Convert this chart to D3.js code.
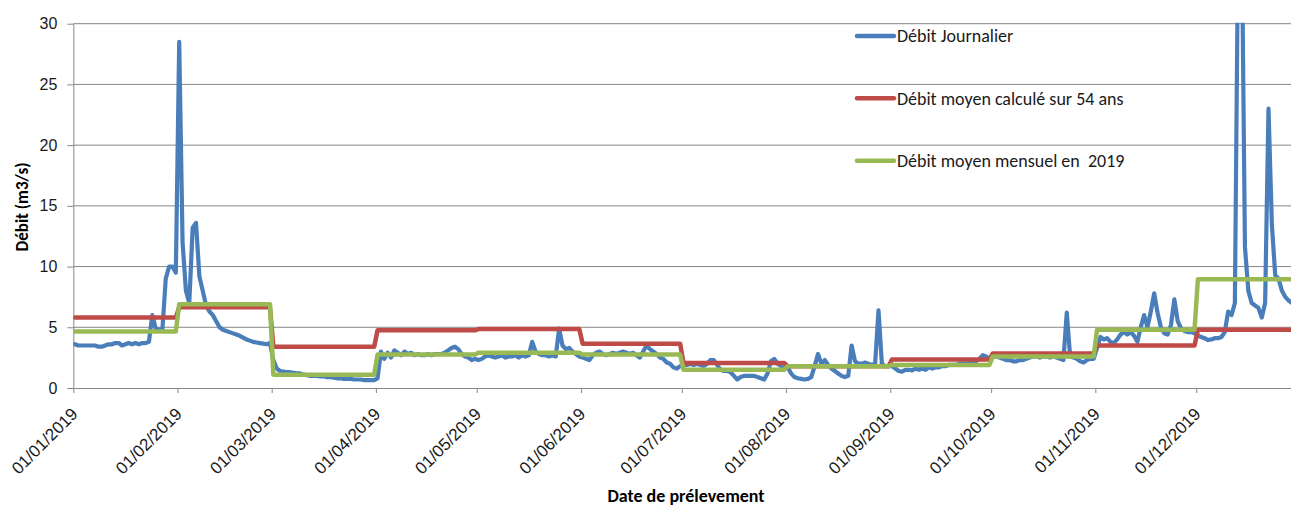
<!DOCTYPE html>
<html><head><meta charset="utf-8">
<script src="https://cdn.jsdelivr.net/npm/d3@7"></script>
<style>
html,body{margin:0;padding:0;background:#fff;}
svg{display:block;font-family:Carlito, Lato, sans-serif;}
svg text{white-space:pre;}
</style></head><body>
<svg id="chart" width="1291" height="507"></svg>
<script>
// ---- data ----
const monthStarts = ["2019-01-01","2019-02-01","2019-03-01","2019-04-01","2019-05-01","2019-06-01",
                     "2019-07-01","2019-08-01","2019-09-01","2019-10-01","2019-11-01","2019-12-01"];
const yTicks = [0, 5, 10, 15, 20, 25, 30];
const seriesNames = ["Débit Journalier", "Débit moyen calculé sur 54 ans", "Débit moyen mensuel en  2019"];
const yTitle = "Débit (m3/s)";
const xTitle = "Date de prélevement";

// daily flow, one array per month (Dec visible up to the 29th)
const dailyJan = [3.6,3.5,3.5,3.5,3.5,3.5,3.5,3.4,3.4,3.5,3.6,3.6,3.7,3.7,3.5,3.6,3.7,3.6,3.7,3.6,3.7,3.7,3.8,6.0,4.9,4.8,4.8,9.0,10.0,10.0,9.5];
const dailyFeb = [28.5,12,8,7.0,13.2,13.6,9.2,8.0,6.8,6.3,6.0,5.5,5.0,4.8,4.7,4.6,4.5,4.4,4.3,4.15,4.0,3.9,3.8,3.75,3.7,3.65,3.6,3.7];
const dailyMar = [2.3,1.6,1.4,1.35,1.3,1.3,1.25,1.2,1.2,1.1,1.05,1.0,1.0,1.0,0.95,0.95,0.9,0.9,0.85,0.8,0.8,0.75,0.75,0.75,0.7,0.7,0.7,0.65,0.65,0.65,0.65];
const dailyApr = [0.8,3.0,2.4,2.9,2.5,3.1,2.9,2.7,3.0,2.8,2.9,2.7,2.8,2.7,2.7,2.8,2.7,2.8,2.8,2.8,2.9,3.1,3.3,3.4,3.2,2.8,2.6,2.5,2.3,2.4];
const dailyMay = [2.3,2.4,2.6,2.7,2.6,2.5,2.6,2.7,2.5,2.6,2.6,2.7,2.5,2.7,2.6,2.7,3.8,3.0,2.8,2.7,2.7,2.6,2.7,2.6,4.9,3.5,3.2,3.3,3.0,2.8,2.6];
const dailyJun = [2.5,2.4,2.3,2.7,2.9,3.0,2.8,2.7,2.8,2.9,2.8,2.9,3.0,2.9,2.8,2.9,2.7,2.5,3.0,3.5,3.2,3.0,2.8,2.5,2.4,2.1,2.0,1.7,1.6,1.8];
const dailyJul = [1.9,1.9,2.0,1.9,2.0,1.9,1.8,2.0,2.3,2.3,1.9,1.5,1.4,1.4,1.3,1.0,0.7,0.9,1.0,1.0,1.0,1.0,0.9,0.8,0.7,1.2,2.2,2.4,2.0,1.8,1.6];
const dailyAug = [1.7,1.2,0.9,0.8,0.75,0.7,0.75,0.9,1.8,2.8,2.0,2.3,1.9,1.6,1.4,1.2,1.0,0.9,1.0,3.5,2.2,2.0,2.0,2.1,2.0,1.9,2.0,6.4,2.0,1.8,1.8];
const dailySep = [1.8,1.6,1.4,1.35,1.5,1.5,1.45,1.6,1.5,1.6,1.5,1.7,1.6,1.7,1.7,1.8,1.8,1.9,1.9,1.9,2.0,2.0,2.0,2.1,2.1,2.2,2.4,2.7,2.6,2.4];
const dailyOct = [2.6,2.6,2.5,2.4,2.3,2.3,2.2,2.2,2.3,2.3,2.4,2.5,2.6,2.6,2.5,2.6,2.6,2.5,2.6,2.5,2.4,2.3,6.2,2.6,2.5,2.4,2.2,2.1,2.3,2.4,2.4];
const dailyNov = [3.3,4.2,4.0,4.1,3.8,3.7,4.0,4.4,4.6,4.4,4.6,4.3,3.8,5.0,6.0,5.0,6.3,7.8,6.2,5.0,4.5,4.4,5.2,7.3,5.5,4.9,4.7,4.6,4.6,4.5];
const dailyDec = [4.3,4.2,4.1,3.95,4.0,4.1,4.1,4.2,4.6,6.3,6.0,7.0,38,39,11.6,8.0,7.0,6.8,6.6,5.8,7.0,23,13.5,9.3,9.0,8.0,7.5,7.2,7.0];

// monthly means
const meanLongTerm = [5.8, 6.65, 3.4, 4.75, 4.85, 3.65, 2.05, 1.8, 2.35, 2.85, 3.5, 4.8];
const monthly2019  = [4.65, 6.9, 1.1, 2.75, 2.9, 2.75, 1.5, 1.8, 1.9, 2.6, 4.8, 8.95];

// ---- chart ----
const W = 1291, H = 507;
const plotLeft = 73.3, plotTop = 23.7, plotBottom = 388, dayPx = 3.362;
const colors = ["#4a7ebb", "#be4b48", "#98b954"];
const gridColor = "#878787";

const t0 = Date.UTC(2019, 0, 1), t1 = Date.UTC(2020, 0, 1);
const x = d3.scaleUtc().domain([t0, t1]).range([plotLeft, plotLeft + 365 * dayPx]);
const y = d3.scaleLinear().domain([0, 30]).range([plotBottom, plotTop]);

const svg = d3.select("#chart");
const halfDay = 12 * 3600 * 1000;

const daily = [].concat(dailyJan, dailyFeb, dailyMar, dailyApr, dailyMay, dailyJun,
                        dailyJul, dailyAug, dailySep, dailyOct, dailyNov, dailyDec)
  .map((v, i) => ({date: new Date(d3.utcDay.offset(new Date(t0), i).getTime() + halfDay), v}));

function monthSteps(vals) {
  const pts = [];
  vals.forEach((v, m) => {
    const first = new Date(Date.UTC(2019, m, 1) + halfDay);
    const last = new Date(Date.UTC(2019, m + 1, 0) + halfDay);
    pts.push({date: first, v}, {date: last, v});
  });
  return pts;
}

// gridlines
svg.append("g").selectAll("line").data(yTicks.filter(d => d > 0)).join("line")
  .attr("x1", plotLeft).attr("x2", W + 10)
  .attr("y1", d => y(d)).attr("y2", d => y(d))
  .attr("stroke", gridColor).attr("stroke-width", 1);

// axes
const yAxis = svg.append("g").attr("transform", `translate(${plotLeft},0)`)
  .call(d3.axisLeft(y).tickValues(yTicks).tickSize(6).tickSizeOuter(0).tickPadding(10));
const xAxis = svg.append("g").attr("transform", `translate(0,${plotBottom})`)
  .call(d3.axisBottom(x).tickValues(monthStarts.map(s => new Date(s + "T00:00:00Z")))
        .tickFormat(d3.utcFormat("%d/%m/%Y")).tickSize(5).tickSizeOuter(0));
xAxis.select(".domain").attr("d", `M${plotLeft},0.5H${W + 10}`);
[yAxis, xAxis].forEach(a => {
  a.selectAll(".domain, .tick line").attr("stroke", gridColor).attr("stroke-width", 1);
  a.selectAll("text").attr("fill", "#1a1a1a").attr("font-family", null);
});
yAxis.selectAll(".tick text").attr("font-size", 16);
xAxis.selectAll(".tick text")
  .attr("font-size", 17)
  .attr("y", 0).attr("x", 0).attr("dy", 0)
  .attr("text-anchor", "end")
  .attr("transform", "translate(5,27) rotate(-45)");

// clip for series
svg.append("clipPath").attr("id", "plotClip").append("rect")
  .attr("x", plotLeft).attr("y", plotTop - 1).attr("width", W).attr("height", plotBottom - plotTop + 10);

const line = d3.line().x(d => x(d.date)).y(d => y(d.v));
const gSeries = svg.append("g").attr("clip-path", "url(#plotClip)");
[daily, monthSteps(meanLongTerm), monthSteps(monthly2019)].forEach((data, i) => {
  gSeries.append("path").datum(data)
    .attr("d", line).attr("fill", "none")
    .attr("stroke", colors[i]).attr("stroke-width", i === 0 ? 4.2 : 4.5)
    .attr("stroke-linejoin", "round").attr("stroke-linecap", "round");
});

// legend
const legendY = [36, 98.3, 160.7];
const lg = svg.append("g");
seriesNames.forEach((name, i) => {
  lg.append("line").attr("x1", 857).attr("x2", 894).attr("y1", legendY[i]).attr("y2", legendY[i])
    .attr("stroke", colors[i]).attr("stroke-width", 4.5).attr("stroke-linecap", "round");
  lg.append("text").attr("x", 897).attr("y", legendY[i]).attr("dy", "0.35em")
    .attr("font-size", 18).attr("fill", "#1a1a1a").text(name);
});

// titles
svg.append("text").attr("transform", "translate(22,207) rotate(-90)")
  .attr("text-anchor", "middle").attr("dy", "0.35em")
  .attr("font-size", 17).attr("font-weight", "bold").attr("fill", "#000").text(yTitle);
svg.append("text").attr("x", 686).attr("y", 496).attr("dy", "0.35em")
  .attr("text-anchor", "middle")
  .attr("font-size", 18).attr("font-weight", "bold").attr("fill", "#000").text(xTitle);
</script>
</body></html>
